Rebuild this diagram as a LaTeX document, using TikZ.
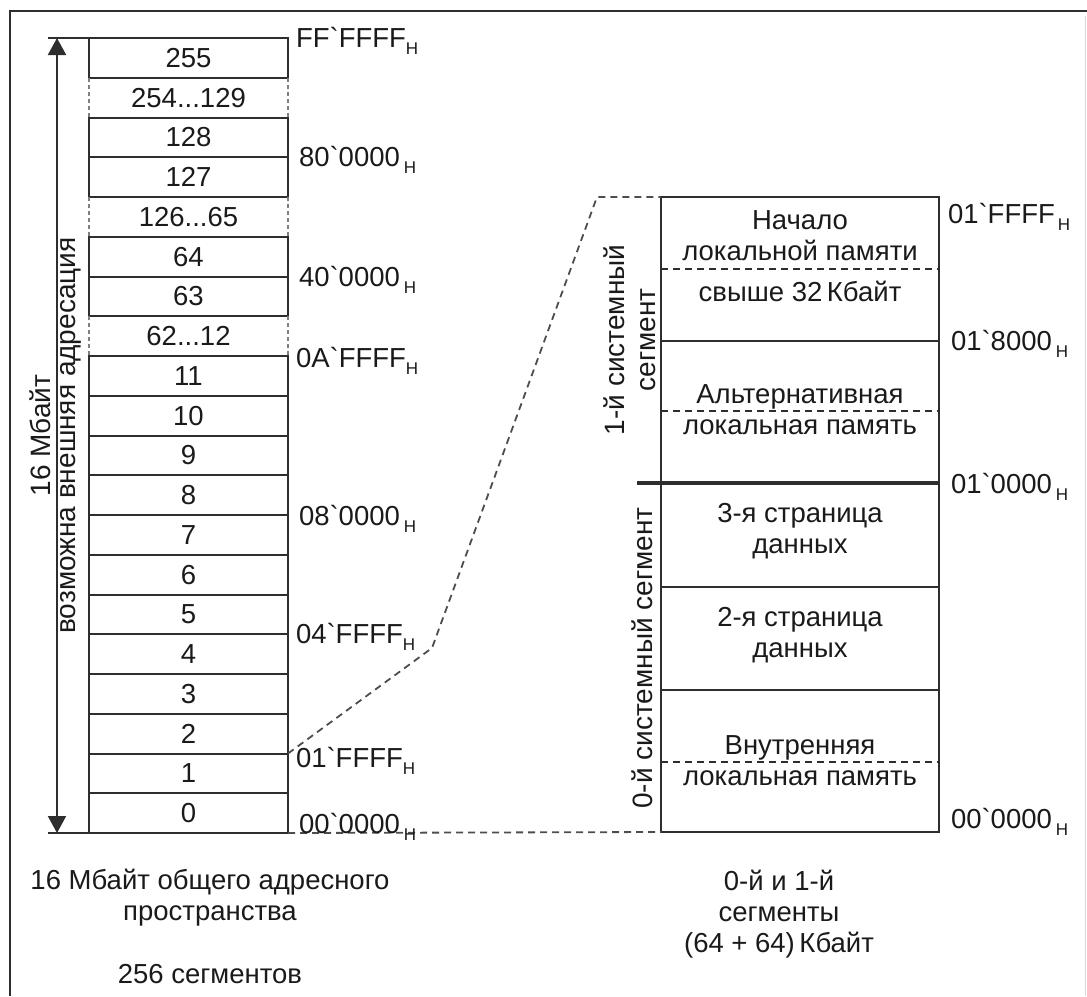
\documentclass[tikz,border=0pt]{standalone}
\usepackage{fontspec}
\setmainfont{Liberation Sans}
\usetikzlibrary{arrows.meta}
\definecolor{ink}{HTML}{1A1A1A}
\definecolor{linec}{HTML}{2E2E2E}
\definecolor{dotc}{HTML}{808080}
\newcommand\txtsz{\fontsize{27.5}{31}\selectfont}
\newcommand\rotsz{\fontsize{28}{31}\selectfont}
\newcommand\hsub{\raisebox{-7pt}{\fontsize{17}{17}\selectfont H}}
\newcommand\bq{\textasciigrave}
\begin{document}
\begin{tikzpicture}[x=1pt,y=-1pt,
  every node/.style={text=ink, font=\txtsz, inner sep=0pt, outer sep=0pt},
  seg/.style={draw=linec, line width=2pt, minimum width=199pt, minimum height=39.75pt, anchor=north west},
  gapseg/.style={minimum width=199pt, minimum height=39.75pt, anchor=north west},
  dotside/.style={draw=dotc, line width=1.8pt, dash pattern=on 4pt off 3pt},
  addr/.style={anchor=base west},
  blk/.style={draw=linec, line width=2.3pt, minimum width=278pt, anchor=north west},
  innerdash/.style={draw=linec, line width=1.8pt, dash pattern=on 7pt off 5pt},
  link/.style={draw=linec!85, line width=1.8pt, dash pattern=on 7pt off 5pt},
  multi/.style={align=center},
  rot/.style={rotate=90, font=\rotsz, align=center},
  tipA/.tip={Triangle[length=17pt,width=18pt]},
]
\useasboundingbox (0,0) rectangle (1087,996);
% frame
\draw[linec, line width=2.2pt] (1087,11) -- (10,11) -- (10,996);
\draw[black!15, line width=1pt] (1085,16) -- (1085,996);

% left stack
\node[seg] (r255) at (89,38) {255};
\node[gapseg] (r254) at (89,77.75) {254...129};
\node[seg] (r128) at (89,117.5) {128};
\node[seg] (r127) at (89,157.25) {127};
\node[gapseg] (r126) at (89,197) {126...65};
\node[seg] (r64) at (89,236.75) {64};
\node[seg] (r63) at (89,276.5) {63};
\node[gapseg] (r62) at (89,316.25) {62...12};
\node[seg] (r11) at (89,356) {11};
\node[seg] (r10) at (89,395.75) {10};
\node[seg] (r9) at (89,435.5) {9};
\node[seg] (r8) at (89,475.25) {8};
\node[seg] (r7) at (89,515) {7};
\node[seg] (r6) at (89,554.75) {6};
\node[seg] (r5) at (89,594.5) {5};
\node[seg] (r4) at (89,634.25) {4};
\node[seg] (r3) at (89,674) {3};
\node[seg] (r2) at (89,713.75) {2};
\node[seg] (r1) at (89,753.5) {1};
\node[seg] (r0) at (89,793.25) {0};
\foreach \n in {r254,r126,r62} {
  \draw[dotside] (\n.north west) -- (\n.south west);
  \draw[dotside] (\n.north east) -- (\n.south east);
}

% size arrow
\coordinate (atop) at (57,38);
\coordinate (abot) at (57,833);
\coordinate (etop) at (48,38);
\coordinate (ebot) at (48,833);
\draw[linec, line width=2pt, {tipA}-{tipA}] (atop) -- (abot);
\draw[linec, line width=2pt] (etop) -- (r255.north west);
\draw[linec, line width=2pt] (ebot) -- (r0.south west);
\node[rot] (m16) at (40,435.5) {16 Мбайт};
\node[rot] (ext) at (71,435.5) {возможна внешняя адресация};

% right stack
\node[blk, minimum height=144pt] (b1) at (661,197) {};
\node[blk, minimum height=142pt] (b2) at (661,341) {};
\node[blk, minimum height=104pt] (b3) at (661,483) {};
\node[blk, minimum height=103pt] (b4) at (661,587) {};
\node[blk, minimum height=142pt] (b5) at (661,690) {};
\draw[innerdash] ([yshift=-72pt]b1.north west) -- ([yshift=-72pt]b1.north east);
\draw[innerdash] ([yshift=-70pt]b2.north west) -- ([yshift=-70pt]b2.north east);
\draw[innerdash] ([yshift=-72pt]b5.north west) -- ([yshift=-72pt]b5.north east);
\coordinate (stick) at (637,483);
\draw[linec, line width=3.4pt] (stick) -- (b3.north east);

\node[multi] (t1) at (800,236) {Начало\\локальной памяти};
\node (t2) at (800,291) {свыше 32\,Кбайт};
\node[multi] (t3) at (800,410) {Альтернативная\\локальная память};
\node[multi] (t4) at (800,531) {3-я страница\\данных};
\node[multi] (t5) at (800,635) {2-я страница\\данных};
\node[multi] (t6) at (800,761) {Внутренняя\\локальная память};

\node[rot] (s1) at (630,340) {1-й системный\\сегмент};
\node[rot] (s0) at (642,658) {0-й системный сегмент};

% link lines
\coordinate (k1) at (432,648);
\coordinate (k2) at (597,197);
\draw[link] (r1.north east) -- (k1) -- (k2) -- (b1.north west);
\draw[link] (r0.south east) -- (b5.south west);

% addresses left
\node[addr] (aFF) at (296,47) {FF\bq FFFF\hsub};
\node[addr] (a80) at (299,166) {80\bq 0000\hspace{4pt}\hsub};
\node[addr] (a40) at (299,286) {40\bq 0000\hspace{4pt}\hsub};
\node[addr] (a0A) at (296,367) {0A\bq FFFF\hsub};
\node[addr] (a08) at (299,525) {08\bq 0000\hspace{4pt}\hsub};
\node[addr] (a04) at (296,643) {04\bq FFFF\hsub};
\node[addr] (a01) at (296,767) {01\bq FFFF\hsub};
\node[addr] (a00) at (299,833) {00\bq 0000\hspace{4pt}\hsub};

% addresses right
\node[addr] (bFF) at (948,223) {01\bq FFFF\hspace{3pt}\hsub};
\node[addr] (b80) at (951,350) {01\bq 8000\hspace{4pt}\hsub};
\node[addr] (b00) at (951,493) {01\bq 0000\hspace{4pt}\hsub};
\node[addr] (b0) at (951,828) {00\bq 0000\hspace{4pt}\hsub};

% captions
\node[multi] (capL) at (210,898) {16 Мбайт общего адресного\\пространства};
\node (capL2) at (210,974) {256 сегментов};
\node[multi] (capR) at (779,914) {0-й и 1-й\\сегменты\\(64 + 64)\,Кбайт};
\end{tikzpicture}
\end{document}
